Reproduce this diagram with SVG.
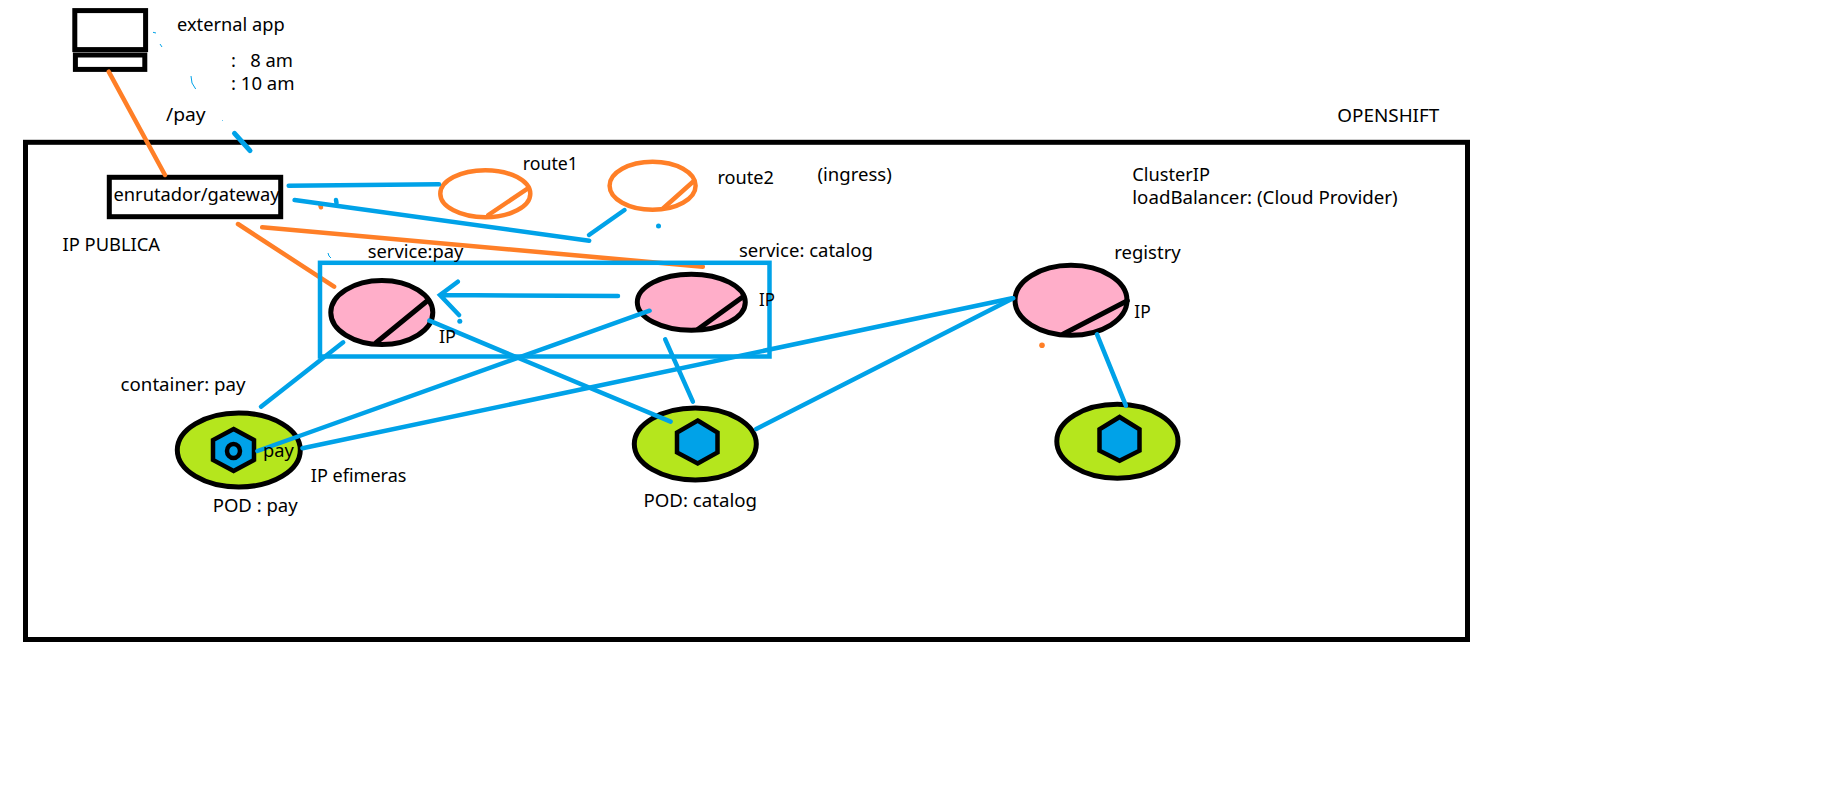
<svg xmlns="http://www.w3.org/2000/svg" width="1822" height="807" viewBox="0 0 1822 807">
<style>
text{font-family:"Noto Sans","Open Sans","Liberation Sans",sans-serif;font-size:18.5px;fill:#000}
.blk{fill:none;stroke:#000;stroke-width:5}
.svc{fill:#ffaec9;stroke:#000;stroke-width:5}
.pod{fill:#b5e61d;stroke:#000;stroke-width:5}
.hex{fill:#00a2e8;stroke:#000;stroke-width:4.5;stroke-linejoin:miter}
.dg{stroke:#000;stroke-width:5;stroke-linecap:round;fill:none}
.rt{fill:none;stroke:#ff7f27;stroke-width:4.5}
.rd{stroke:#ff7f27;stroke-width:4.5;stroke-linecap:round;fill:none}
.b{stroke:#00a2e8;stroke-width:4.5;stroke-linecap:round;fill:none}
.o{stroke:#ff7f27;stroke-width:4.5;stroke-linecap:round;fill:none}
.t{stroke:#00a2e8;stroke-width:1;fill:none}
</style>
<rect id="openshift-frame" x="25.5" y="142.3" width="1442" height="497.2" fill="none" stroke="#000" stroke-width="5"/>
<g id="external-app">
<rect class="blk" x="74.8" y="10.6" width="70.8" height="39"/>
<rect class="blk" x="75.4" y="55" width="69.4" height="14.4"/>
</g>
<g id="gateway">
<rect class="blk" x="109.3" y="177.3" width="171.4" height="39.4"/>
<text x="113.5" y="201" textLength="166" lengthAdjust="spacingAndGlyphs">enrutador/gateway</text>
</g>
<g id="route1">
<ellipse class="rt" cx="485.3" cy="193.7" rx="45" ry="23.5"/>
<path class="rd" d="M527.9 188.3L488.3 215"/>
</g>
<g id="route2">
<ellipse class="rt" cx="652.6" cy="185.8" rx="43" ry="24"/>
<path class="rd" d="M693 181.7L663.3 208.3"/>
</g>
<g id="service-pay">
<ellipse class="svc" cx="381.8" cy="312.5" rx="51" ry="32"/>
<path class="dg" d="M427.4 300.7L376 342.7"/>
</g>
<g id="service-catalog">
<ellipse class="svc" cx="691.3" cy="302.2" rx="54" ry="28"/>
<path class="dg" d="M743 296.7L698 329.3"/>
</g>
<g id="registry">
<ellipse class="svc" cx="1071" cy="300.3" rx="56" ry="35"/>
<path class="dg" d="M1127.3 300.7L1063.3 334"/>
</g>
<g id="pod-pay">
<ellipse class="pod" cx="238.8" cy="450" rx="61.5" ry="37"/>
<path class="hex" d="M233.6 429L254 440V460L233.6 471L213 460V440Z"/>
<ellipse cx="233.5" cy="451" rx="6.5" ry="7" fill="#00a2e8" stroke="#000" stroke-width="4.5"/>
</g>
<g id="pod-catalog">
<ellipse class="pod" cx="695.3" cy="444" rx="61" ry="36"/>
<path class="hex" d="M697.7 420.5L717.5 432.5V452.5L697.7 463.5L677 452.5V432.5Z"/>
</g>
<g id="pod-registry">
<ellipse class="pod" cx="1117.4" cy="441.2" rx="60.6" ry="37"/>
<path class="hex" d="M1119.6 417L1139.5 429.3V450.7L1119.6 460.7L1099.5 450.7V429.3Z"/>
</g>
<g id="connectors">
<path class="o" d="M108.7 71.7L165 175"/>
<path class="o" d="M238 224L334.1 286.7"/>
<path class="o" d="M262.2 227.3L702.8 266.7"/>
<path class="o" d="M320.3 205L321 207.3"/>
<path class="b" d="M288.7 185.7L439 184.3"/>
<path class="b" d="M294.6 200L589.2 240.7"/>
<path class="b" d="M589 235L624.5 210"/>
<path class="b" d="M336 200L336.5 203"/>
<path class="b" d="M234.5 133.3L250 150.7" style="stroke-width:5"/>
<path class="b" d="M618 296L440 295M457.8 281.7L440 295L459 315"/>
<path class="b" d="M343.2 342.3L261 406.7"/>
<path class="b" d="M429.4 320.7L670.6 421.7"/>
<path class="b" d="M257.4 451L649.6 310.7"/>
<path class="b" d="M302.5 448.3L1012 298.3"/>
<path class="b" d="M665.2 339.3L692.9 401.7"/>
<path class="b" d="M756.2 429L1013.2 298.3"/>
<path class="b" d="M1097 334.3L1125.9 405.7"/>
<path class="t" d="M153 32.3L156 33M160 44L162 47M191 76L192 83L195.7 89M222 120L222.6 120.6M328 253L329 256L331 258"/>
<circle cx="658.5" cy="226" r="2.5" fill="#00a2e8"/>
<circle cx="459.8" cy="321.3" r="2.5" fill="#00a2e8"/>
<circle cx="1042" cy="345.3" r="2.8" fill="#ff7f27"/>
</g>
<rect id="service-box" x="320" y="262.8" width="449.5" height="93.7" fill="none" stroke="#00a2e8" stroke-width="4.5"/>
<g id="labels">
<text x="177" y="31" textLength="107.7" lengthAdjust="spacingAndGlyphs">external app</text>
<text x="231" y="66.7" textLength="62" lengthAdjust="spacingAndGlyphs" xml:space="preserve">:   8 am</text>
<text x="231" y="90" textLength="63.6" lengthAdjust="spacingAndGlyphs">: 10 am</text>
<text x="166" y="120.7" textLength="39.6" lengthAdjust="spacingAndGlyphs">/pay</text>
<text x="522.7" y="170" textLength="55.3" lengthAdjust="spacingAndGlyphs">route1</text>
<text x="367.7" y="258" textLength="95.7" lengthAdjust="spacingAndGlyphs">service:pay</text>
<text x="62.5" y="250.7" textLength="97.5" lengthAdjust="spacingAndGlyphs">IP PUBLICA</text>
<text x="717.4" y="184" textLength="56.6" lengthAdjust="spacingAndGlyphs">route2</text>
<text x="817.5" y="180.7" textLength="74.3" lengthAdjust="spacingAndGlyphs">(ingress)</text>
<text x="1132.3" y="181" textLength="77.7" lengthAdjust="spacingAndGlyphs">ClusterIP</text>
<text x="1132.3" y="204" textLength="265.4" lengthAdjust="spacingAndGlyphs">loadBalancer: (Cloud Provider)</text>
<text x="1337.3" y="121.7" textLength="102" lengthAdjust="spacingAndGlyphs">OPENSHIFT</text>
<text x="1114.3" y="259" textLength="66.4" lengthAdjust="spacingAndGlyphs">registry</text>
<text x="1134.3" y="317.7" textLength="16.4" lengthAdjust="spacingAndGlyphs">IP</text>
<text x="739" y="257" textLength="133.8" lengthAdjust="spacingAndGlyphs">service: catalog</text>
<text x="759" y="305.7" textLength="15.8" lengthAdjust="spacingAndGlyphs">IP</text>
<text x="439" y="343.3" textLength="17" lengthAdjust="spacingAndGlyphs">IP</text>
<text x="120.6" y="391" textLength="124.9" lengthAdjust="spacingAndGlyphs">container: pay</text>
<text x="263" y="456.7" textLength="30.8" lengthAdjust="spacingAndGlyphs">pay</text>
<text x="310.8" y="481.7" textLength="95.6" lengthAdjust="spacingAndGlyphs">IP efimeras</text>
<text x="212.7" y="511.7" textLength="85" lengthAdjust="spacingAndGlyphs">POD : pay</text>
<text x="643.5" y="507" textLength="113.5" lengthAdjust="spacingAndGlyphs">POD: catalog</text>
</g>
</svg>
